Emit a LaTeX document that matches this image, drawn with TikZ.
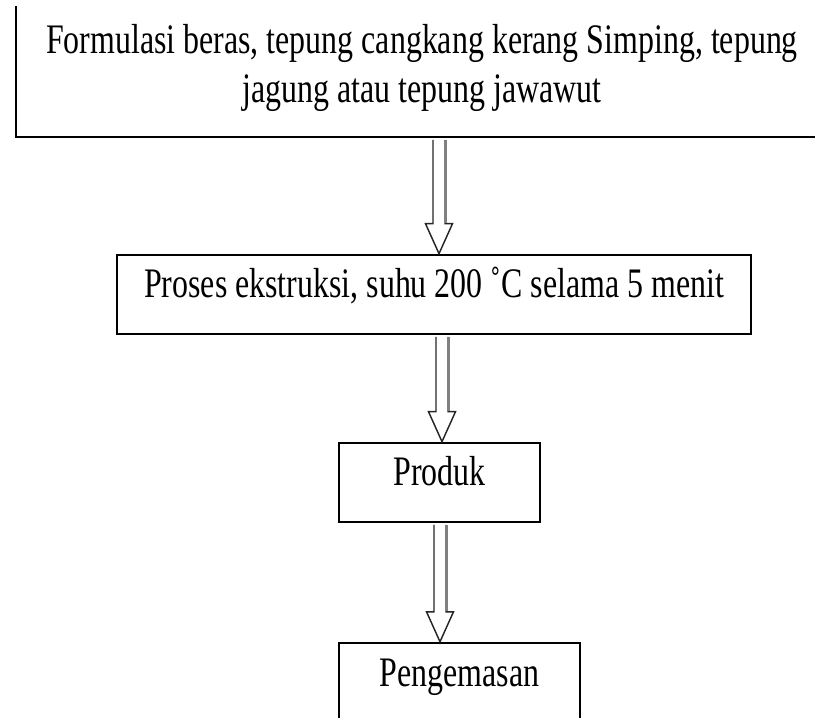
\documentclass[tikz,border=0pt]{standalone}
\usepackage{fontspec}
\setmainfont[FakeStretch=0.76]{Liberation Serif}
\usetikzlibrary{calc}
\tikzset{
  boxbase/.style={draw=black, line width=2pt, inner sep=0pt, font=\fontsize{31.5pt}{36.75pt}\selectfont},
  box/.style={boxbase, text height=0.65em, text depth=0.25em},
  arrbody/.style={fill=white, draw=black!85, line width=1.1pt, line join=miter},
  arrshade/.style={draw=black!50, line width=2.4pt},
}
\newcommand{\flowarrow}[3]{%
  \coordinate (fa-s) at ($(#1,0 |- #2.south)+(0,1.6)$);
  \coordinate (fa-t) at (#1,0 |- #3.north);
  \filldraw[arrbody] ($(fa-s)+(-6,0)$) -- ($(fa-t)+(-6,-30)$) -- ($(fa-t)+(-13.5,-30)$) -- (fa-t) -- ($(fa-t)+(13.5,-30)$) -- ($(fa-t)+(6,-30)$) -- ($(fa-s)+(6,0)$);
  \draw[arrshade] ($(fa-s)+(6.3,0)$) -- ($(fa-t)+(6.3,-31)$);
}
\begin{document}
\begin{tikzpicture}[x=0.75pt,y=-0.75pt]
  \useasboundingbox (0,0) rectangle (815,718);
  \clip (0,6) rectangle (815,718);
  \node[boxbase, align=center, minimum width=812*0.75pt, minimum height=138.6*0.75pt] (b1) at (422,67.7)
    {Formulasi beras, tepung cangkang kerang Simping, tepung\\jagung atau tepung jawawut};
  \node[box, minimum width=633.7*0.75pt, minimum height=79*0.75pt] (b2) at (434,294.5)
    {Proses ekstruksi, suhu 200 ˚C selama 5 menit};
  \node[box, minimum width=201*0.75pt, minimum height=79*0.75pt] (b3) at (439.5,482.5) {Produk};
  \node[box, minimum width=241*0.75pt, minimum height=81*0.75pt] (b4) at (459.5,683.6) {Pengemasan};
  \flowarrow{439}{b1}{b2}
  \flowarrow{442}{b2}{b3}
  \flowarrow{440}{b3}{b4}
\end{tikzpicture}
\end{document}
